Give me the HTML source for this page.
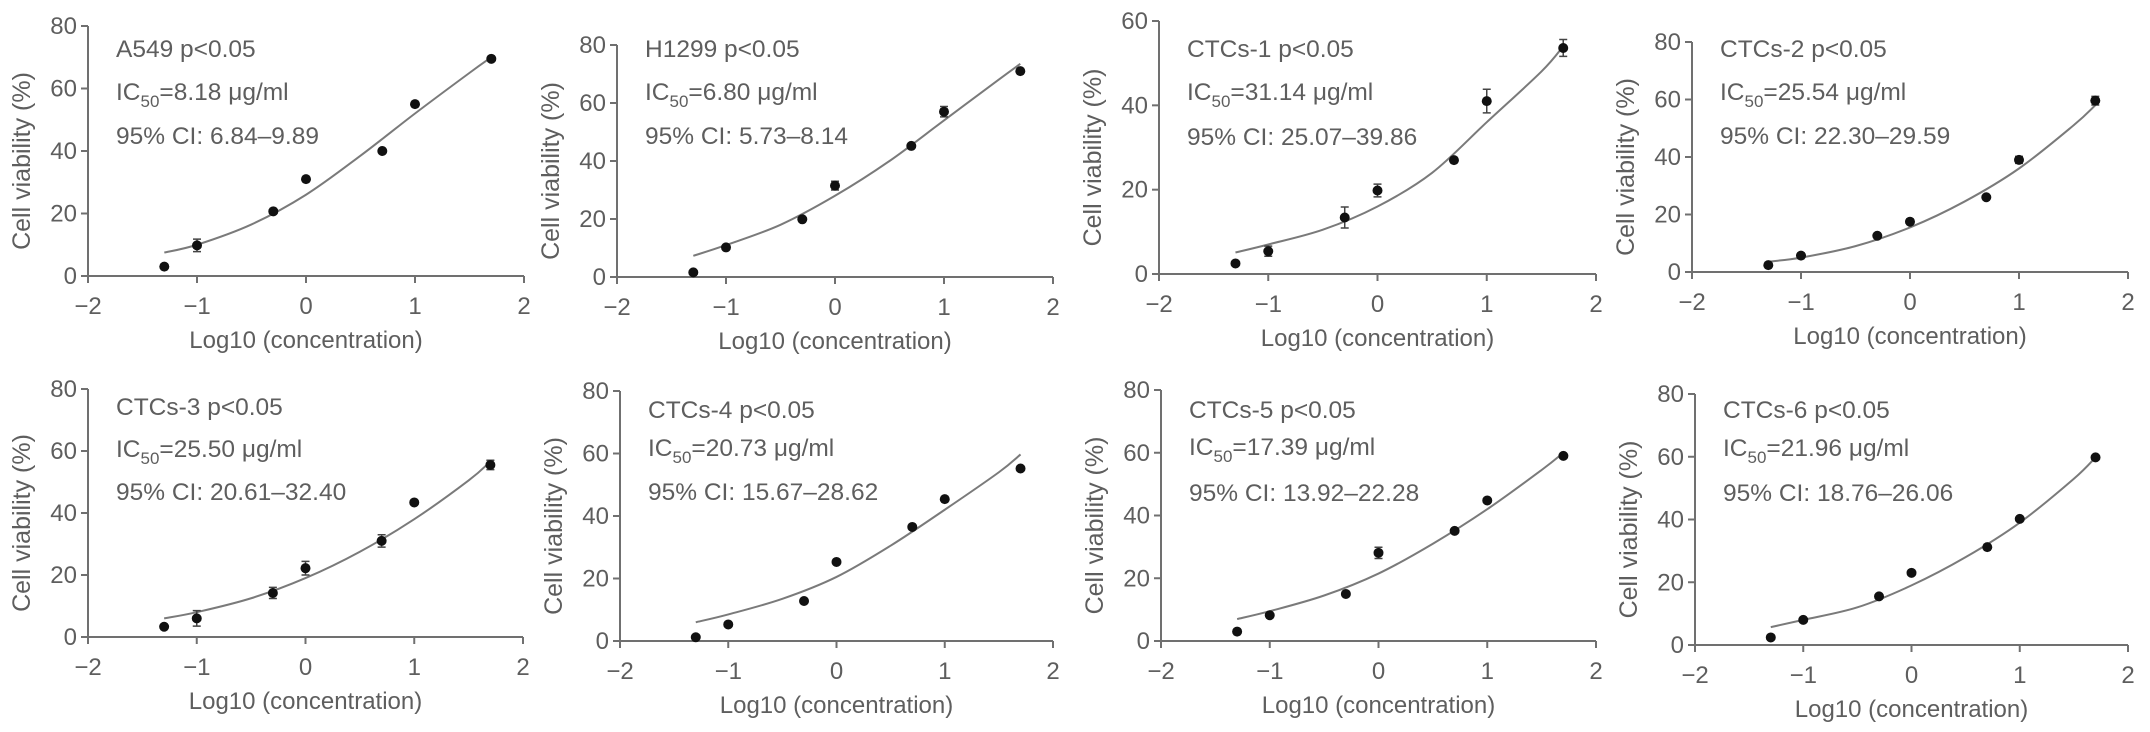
<!DOCTYPE html>
<html><head><meta charset="utf-8"><style>
html,body{margin:0;padding:0;background:#fff;}
svg{display:block;font-family:"Liberation Sans",Arial,sans-serif;}
</style></head><body>
<svg id="fig" width="2150" height="732" viewBox="0 0 2150 732" xmlns="http://www.w3.org/2000/svg"></svg>
<script>
// ---- data ----
const doseX = [-1.3, -1, -0.3, 0, 0.7, 1, 1.7];
const curveX = [-1.3, -1, -0.5, 0, 0.5, 1, 1.5, 1.7];
const xTicks = [-2, -1, 0, 1, 2];
const xTickLabels = ["\u22122", "\u22121", "0", "1", "2"];
const panelNames = ["A549", "H1299", "CTCs-1", "CTCs-2", "CTCs-3", "CTCs-4", "CTCs-5", "CTCs-6"];
const ic50Labels = ["8.18", "6.80", "31.14", "25.54", "25.50", "20.73", "17.39", "21.96"];
const ciLabels = ["6.84\u20139.89", "5.73\u20138.14", "25.07\u201339.86", "22.30\u201329.59", "20.61\u201332.40", "15.67\u201328.62", "13.92\u201322.28", "18.76\u201326.06"];
const yMaxes = [80, 80, 60, 80, 80, 80, 80, 80];
const viabA549 = [3, 9.8, 20.7, 31, 40, 55, 69.5];
const viabH1299 = [1.6, 10.2, 19.9, 31.5, 45.2, 57, 71];
const viabCTC1 = [2.5, 5.4, 13.4, 19.8, 27, 41, 53.6];
const viabCTC2 = [2.4, 5.7, 12.6, 17.5, 26, 39, 59.6];
const viabCTC3 = [3.3, 6, 14.2, 22.2, 31, 43.4, 55.5];
const viabCTC4 = [1.2, 5.3, 12.8, 25.3, 36.5, 45.4, 55.2];
const viabCTC5 = [3, 8.2, 15, 28.1, 35.1, 44.8, 59];
const viabCTC6 = [2.4, 8, 15.5, 23, 31.2, 40.2, 59.8];
const errA549 = [0, 2, 0, 0, 0, 0, 0];
const errH1299 = [0, 0, 0, 1.5, 0, 1.8, 0];
const errCTC1 = [0, 1.2, 2.5, 1.5, 0, 2.8, 2];
const errCTC2 = [0, 0, 0, 0, 0, 1.2, 1.5];
const errCTC3 = [0, 2.5, 1.8, 2.2, 2, 0, 1.5];
const errCTC4 = [0, 0, 0, 0, 0, 0, 0];
const errCTC5 = [0, 0, 0, 1.8, 0, 0, 0];
const errCTC6 = [0, 0, 0, 0, 0, 0, 0];
const fitA549 = [7.5, 10, 16.5, 26, 38.5, 52, 65, 70];
const fitH1299 = [7.3, 11, 18, 28, 40, 54, 68, 73.5];
const fitCTC1 = [5.1, 7, 10.5, 16, 24, 36, 48, 54];
const fitCTC2 = [3.6, 5, 9, 15.5, 24.5, 36, 51, 58];
const fitCTC3 = [6, 8, 12.5, 19, 27.5, 38, 50.5, 56.6];
const fitCTC4 = [6, 8.5, 13.5, 20.5, 30.5, 42, 54, 59.7];
const fitCTC5 = [7, 9.5, 14.5, 21.5, 31, 42, 54.5, 60];
const fitCTC6 = [5.7, 8, 12, 19, 28, 39, 53, 59.8];
const viabSets = [viabA549, viabH1299, viabCTC1, viabCTC2, viabCTC3, viabCTC4, viabCTC5, viabCTC6];
const errSets = [errA549, errH1299, errCTC1, errCTC2, errCTC3, errCTC4, errCTC5, errCTC6];
const fitSets = [fitA549, fitH1299, fitCTC1, fitCTC2, fitCTC3, fitCTC4, fitCTC5, fitCTC6];

// ---- layout (pixels) ----
const layout = [
  {x0:88, x1:524, y0:276, yt:26},
  {x0:617, x1:1053, y0:277, yt:45},
  {x0:1159, x1:1596, y0:274, yt:21},
  {x0:1692, x1:2128, y0:272, yt:42},
  {x0:88, x1:523, y0:637, yt:389},
  {x0:620, x1:1053, y0:641, yt:391},
  {x0:1161, x1:1596, y0:641, yt:390},
  {x0:1695, x1:2128, y0:645, yt:394}
];
const textBase = [[57,100,144],[57,100,144],[57,100,145],[57,100,144],[415,457,500],[418,456,500],[418,455,501],[418,456,501]];

const NS = "http://www.w3.org/2000/svg";
const svg = document.getElementById("fig");
const AX = "#707070", TX = "#5e5e5e";
function mk(tag, attrs, parent){const e=document.createElementNS(NS,tag);for(const k in attrs)e.setAttribute(k,attrs[k]);(parent||svg).appendChild(e);return e;}

panelNames.forEach((name, p) => {
  const L = layout[p], yMax = yMaxes[p];
  const sx = v => L.x0 + (v + 2) / 4 * (L.x1 - L.x0);
  const sy = v => L.y0 - v / yMax * (L.y0 - L.yt);
  const g = mk("g", {});
  
  

  const xa = mk("line", {x1:L.x0, x2:L.x1, y1:L.y0, y2:L.y0, stroke:AX, "stroke-width":2}, g);
  
  
  const ya = mk("line", {x1:L.x0, x2:L.x0, y1:L.y0, y2:L.yt, stroke:AX, "stroke-width":2}, g);
  
  

  xTicks.forEach((t, i) => {
    const X = sx(t);
    mk("line", {x1:X, x2:X, y1:L.y0, y2:L.y0 + 7, stroke:AX, "stroke-width":2}, g);
    const tl = mk("text", {x:X, y:L.y0 + 38, "text-anchor":"middle", "font-size":24, fill:TX}, g);
    tl.textContent = xTickLabels[i];
    
    
  });
  for (let v = 0; v <= yMax; v += 20) {
    const Y = sy(v);
    mk("line", {x1:L.x0 - 7, x2:L.x0, y1:Y, y2:Y, stroke:AX, "stroke-width":2}, g);
    const tl = mk("text", {x:L.x0 - 11, y:Y + 8, "text-anchor":"end", "font-size":24, fill:TX}, g);
    tl.textContent = String(v);
    
    
  }
  const xt = mk("text", {x:(L.x0 + L.x1) / 2, y:L.y0 + 72, "text-anchor":"middle", "font-size":24, fill:TX}, g);
  xt.textContent = "Log10 (concentration)";
  
  
  const cy = (L.y0 + L.yt) / 2 + 10, cx = L.x0 - 58;
  const yt = mk("text", {x:cx, y:cy, "text-anchor":"middle", "font-size":25, fill:TX, transform:`rotate(-90 ${cx} ${cy})`}, g);
  yt.textContent = "Cell viability (%)";
  
  

  const tx = L.x0 + 28, tb = textBase[p];
  const a1 = mk("text", {x:tx, y:tb[0], "font-size":24.5, fill:TX}, g);
  a1.textContent = name + " p<0.05";
  
  
  const a2 = mk("text", {x:tx, y:tb[1], "font-size":24.5, fill:TX}, g);
  
  
  a2.innerHTML = 'IC<tspan font-size="17" dy="7">50</tspan><tspan dy="-7">=' + ic50Labels[p] + ' \u03bcg/ml</tspan>';
  const a3 = mk("text", {x:tx, y:tb[2], "font-size":24.5, fill:TX}, g);
  a3.textContent = "95% CI: " + ciLabels[p];
  
  

  const fit = fitSets[p];
  const P = curveX.map((x, i) => [sx(x), sy(fit[i])]);
  let d = `M${P[0][0]},${P[0][1]}`;
  for (let i = 0; i < P.length - 1; i++) {
    const p0 = P[Math.max(0, i - 1)], p1 = P[i], p2 = P[i + 1], p3 = P[Math.min(P.length - 1, i + 2)];
    const c1 = [p1[0] + (p2[0] - p0[0]) / 6, p1[1] + (p2[1] - p0[1]) / 6];
    const c2 = [p2[0] - (p3[0] - p1[0]) / 6, p2[1] - (p3[1] - p1[1]) / 6];
    d += ` C${c1[0]},${c1[1]} ${c2[0]},${c2[1]} ${p2[0]},${p2[1]}`;
  }
  const fc = mk("path", {d:d, fill:"none", stroke:"#7a7a7a", "stroke-width":2}, g);
  
  

  const vals = viabSets[p], errs = errSets[p];
  doseX.forEach((x, i) => {
    const X = sx(x), Y = sy(vals[i]);
    if (errs[i] > 0) {
      const e1 = sy(vals[i] + errs[i]), e2 = sy(vals[i] - errs[i]);
      const eb = mk("path", {d:`M${X},${e1}V${e2}M${X-4},${e1}H${X+4}M${X-4},${e2}H${X+4}`, stroke:"#444", "stroke-width":1.5, fill:"none"}, g);
      
      
    }
    const c = mk("circle", {cx:X, cy:Y, r:5, fill:"#111"}, g);
    
    
  });
});
</script>
</body></html>
